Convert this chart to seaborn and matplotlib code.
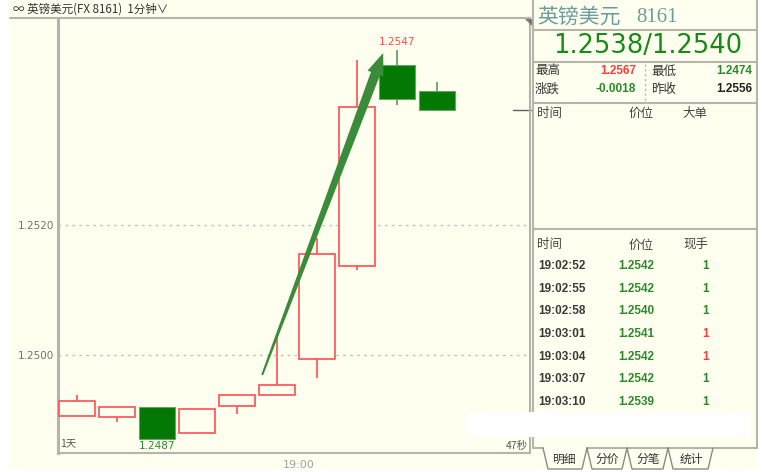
import matplotlib
matplotlib.use("Agg")
import matplotlib.pyplot as plt
from matplotlib.lines import Line2D
from matplotlib.patches import Polygon, Rectangle
import numpy as np
import seaborn as sns

# GBP/USD one-minute bars
bar_index = list(range(10))
opens = [1.24906, 1.24905, 1.24920, 1.24880, 1.24922, 1.24938, 1.24994, 1.25137, 1.25447, 1.25407]
highs = [1.24939, 1.24920, 1.24920, 1.24916, 1.24938, 1.25026, 1.25180, 1.25455, 1.25471, 1.25421]
lows = [1.24906, 1.24896, 1.24870, 1.24879, 1.24909, 1.24938, 1.24964, 1.25131, 1.25385, 1.25378]
closes = [1.24929, 1.24920, 1.24870, 1.24916, 1.24938, 1.24953, 1.25156, 1.25383, 1.25395, 1.25378]

y_ticks = [1.2500, 1.2520]
time_tick_pos = [5.55]
time_tick_labels = ["19:00"]

# quote panel
panel_name = "英镑美元"
panel_code = "8161"
bid_ask = "1.2538/1.2540"
day_high = "1.2567"
day_low = "1.2474"
day_change = "-0.0018"
prev_close = "1.2556"

tick_times = ["19:02:52", "19:02:55", "19:02:58", "19:03:01", "19:03:04", "19:03:07", "19:03:10"]
tick_prices = ["1.2542", "1.2542", "1.2540", "1.2541", "1.2542", "1.2542", "1.2539"]
tick_vols = [1, 1, 1, 1, 1, 1, 1]
tick_side = ["buy", "buy", "buy", "sell", "sell", "buy", "buy"]
tab_names = ["明细", "分价", "分笔", "统计"]

W, H = 764, 472
CREAM = "#fffff0"
RED = "#ff5c5c"
GREEN_BODY = "#037803"
GREEN_TXT = "#2a8a2a"
BORDER = "#b4b4aa"
CN = ["Noto Sans CJK SC", "DejaVu Sans"]
NUM = ["Liberation Sans", "Noto Sans CJK SC"]

sns.set_theme(style="white")
plt.rcParams["font.family"] = CN

fig = plt.figure(figsize=(W / 100, H / 100), dpi=100, facecolor="white")


def fx(x):
    return x / W


def fy(y):
    return 1 - y / H


def fline(xs, ys, **kw):
    fig.add_artist(Line2D([fx(x) for x in xs], [fy(y) for y in ys],
                          transform=fig.transFigure, **kw))


def ftext(x, y, s, **kw):
    kw.setdefault("va", "center")
    fig.text(fx(x), fy(y), s, **kw)


# cream window background
fig.add_artist(Rectangle((fx(10), fy(468)), fx(757) - fx(10), fy(0) - fy(468),
                         transform=fig.transFigure, facecolor=CREAM,
                         edgecolor="none", zorder=0))

# ---- candlestick chart ----
ax = fig.add_axes([fx(58), fy(453), fx(530) - fx(58), fy(18) - fy(453)])
ax.set_facecolor(CREAM)
ax.set_xlim(-0.48, 11.32)
ax.set_ylim(1.248489, 1.255197)

for i, o, h, l, c in zip(bar_index, opens, highs, lows, closes):
    up = c >= o
    if up:
        ax.vlines(i, l, h, color=RED, lw=1.3, zorder=2)
        ax.bar(i, c - o, bottom=o, width=0.9, facecolor=CREAM,
               edgecolor=RED, lw=1.3, zorder=3)
    else:
        ax.vlines(i, l, h, color="#5a9a5a", lw=1.2, zorder=2)
        ax.bar(i, o - c, bottom=c, width=0.9, facecolor=GREEN_BODY,
               edgecolor="#6aa06a", lw=0.8, zorder=3)

ax.set_yticks(y_ticks)
ax.set_yticklabels([f"{v:.4f}" for v in y_ticks], color="#707070",
                   fontsize=7.5, family=["DejaVu Sans"])
ax.set_xticks(time_tick_pos)
ax.set_xticklabels(time_tick_labels, color="#a0a0a0", fontsize=8,
                   family=["DejaVu Sans"])
ax.tick_params(axis="y", length=0, pad=3)
ax.tick_params(axis="x", length=0, pad=5)
ax.yaxis.grid(True, linestyle=(0, (2, 3)), color="#c4c4bc", lw=1)
ax.xaxis.grid(False)
for side in ["left", "bottom", "right", "top"]:
    ax.spines[side].set_color(BORDER)
    ax.spines[side].set_linewidth(1.5)
ax.spines["left"].set_linewidth(2.2)

# high / low labels
hi_i = int(np.argmax(highs))
lo_i = int(np.argmin(lows))
ax.annotate(f"{highs[hi_i]:.4f}", (hi_i, highs[hi_i]), xytext=(0, 2),
            textcoords="offset points", ha="center", va="bottom",
            color="#ff4a4a", fontsize=7.5, family=["DejaVu Sans"])
ax.annotate(f"{lows[lo_i]:.4f}", (lo_i, lows[lo_i]), xytext=(0, -1.5),
            textcoords="offset points", ha="center", va="top",
            color=GREEN_TXT, fontsize=7.5, family=["DejaVu Sans"])

# last price marker on the right edge
ax.plot([10.9, 11.37], [closes[-1]] * 2, color="#606060", lw=1, clip_on=False)

# big green trend arrow drawn over the rally
tail = (4.625, 1.249692)
tip = (7.65, 1.254657)
p0 = ax.transData.transform(tail)
p1 = ax.transData.transform(tip)
d = p1 - p0
u = d / np.hypot(*d)
n = np.array([-u[1], u[0]])
base = p1 - u * 22
pts = [p0 + n * 1.0, base + n * 4.8, base + n * 8.5, p1,
       base - n * 8.5, base - n * 4.8, p0 - n * 1.0]
ax.add_patch(Polygon(ax.transData.inverted().transform(pts), closed=True,
                     facecolor="#3a8c3a", edgecolor="none", zorder=6))

# chart header and corner notes
fline([10, 58], [18, 18], color=BORDER, lw=1.5)
ftext(13, 9, "∞ 英镑美元(FX 8161)  1分钟∨", fontsize=8.3, color="#333333")
ftext(60, 443, "1天", fontsize=7.5, color="#555555")
ftext(528, 446, "47秒", fontsize=7.5, color="#555555", ha="right")
fig.add_artist(Polygon([[fx(525), fy(19)], [fx(532), fy(19)], [fx(532), fy(26)]],
                       closed=True, transform=fig.transFigure,
                       facecolor="#777777", edgecolor="none"))

# ---- quote panel ----
fline([533, 533], [0, 448], color=BORDER, lw=1.5)
fline([757, 757], [0, 448], color=BORDER, lw=1.5)
for yy in [30, 62, 103, 229]:
    fline([533, 757], [yy, yy], color=BORDER, lw=1.5)
fline([645, 645], [64, 101], color=BORDER, lw=1, linestyle=(0, (1.5, 2)))

ftext(537, 17, panel_name, fontsize=15, color="#6c9c9c")
ftext(636, 17, panel_code, fontsize=15, color="#6c9c9c",
      family=["Liberation Serif"])
ftext(648, 46, bid_ask, fontsize=18.5, color="#168a16", ha="center",
      family=["DejaVu Sans"])

ftext(535, 71, "最高", fontsize=9, color="#333333")
ftext(636, 71, day_high, fontsize=8.5, color="#ff3a3a", ha="right",
      family=NUM, weight="bold")
ftext(651, 71, "最低", fontsize=9, color="#333333")
ftext(752, 71, day_low, fontsize=8.5, color=GREEN_TXT, ha="right",
      family=NUM, weight="bold")
ftext(535, 89, "涨跌", fontsize=9, color="#333333")
ftext(636, 89, day_change, fontsize=8.5, color=GREEN_TXT, ha="right",
      family=NUM, weight="bold")
ftext(651, 89, "昨收", fontsize=9, color="#333333")
ftext(752, 89, prev_close, fontsize=8.5, color="#222222", ha="right",
      family=NUM, weight="bold")

ftext(537, 113, "时间", fontsize=9, color="#444444")
ftext(641, 113, "价位", fontsize=9, color="#444444", ha="center")
ftext(695, 113, "大单", fontsize=9, color="#444444", ha="center")

ftext(537, 245, "时间", fontsize=9, color="#444444")
ftext(641, 245, "价位", fontsize=9, color="#444444", ha="center")
ftext(696, 245, "现手", fontsize=9, color="#444444", ha="center")

for k, (t, p, v, s) in enumerate(zip(tick_times, tick_prices, tick_vols, tick_side)):
    yy = 266 + k * 22.7
    ftext(538, yy, t, fontsize=8.5, color="#3a3a3a", family=NUM, weight="bold")
    ftext(654, yy, p, fontsize=8.5, color=GREEN_TXT, ha="right",
          family=NUM, weight="bold")
    ftext(709, yy, str(v), fontsize=8.5,
          color=GREEN_TXT if s == "buy" else "#ff3a3a", ha="right",
          family=NUM, weight="bold")

# tabs under the panel
fline([533, 543], [448, 448], color=BORDER, lw=1.5)
fline([587, 757], [448, 448], color=BORDER, lw=1.5)
tab_edges = [543, 587, 627, 668, 713]
tab_centers = [564, 607, 648, 691]
for k, name in enumerate(tab_names):
    xl, xr = tab_edges[k], tab_edges[k + 1]
    fline([xl, xl + 5, xr - 5, xr], [448, 469, 469, 448], color="#8a8a84", lw=1)
    ftext(tab_centers[k], 459, name, fontsize=8.5, color="#333333", ha="center")

# white strip covering part of the screenshot
fig.add_artist(Rectangle((fx(468), fy(437)), fx(750) - fx(468), fy(412) - fy(437),
                         transform=fig.transFigure, facecolor="white",
                         edgecolor="none", zorder=10))

fig.savefig("out.png", dpi=100, facecolor="white")
